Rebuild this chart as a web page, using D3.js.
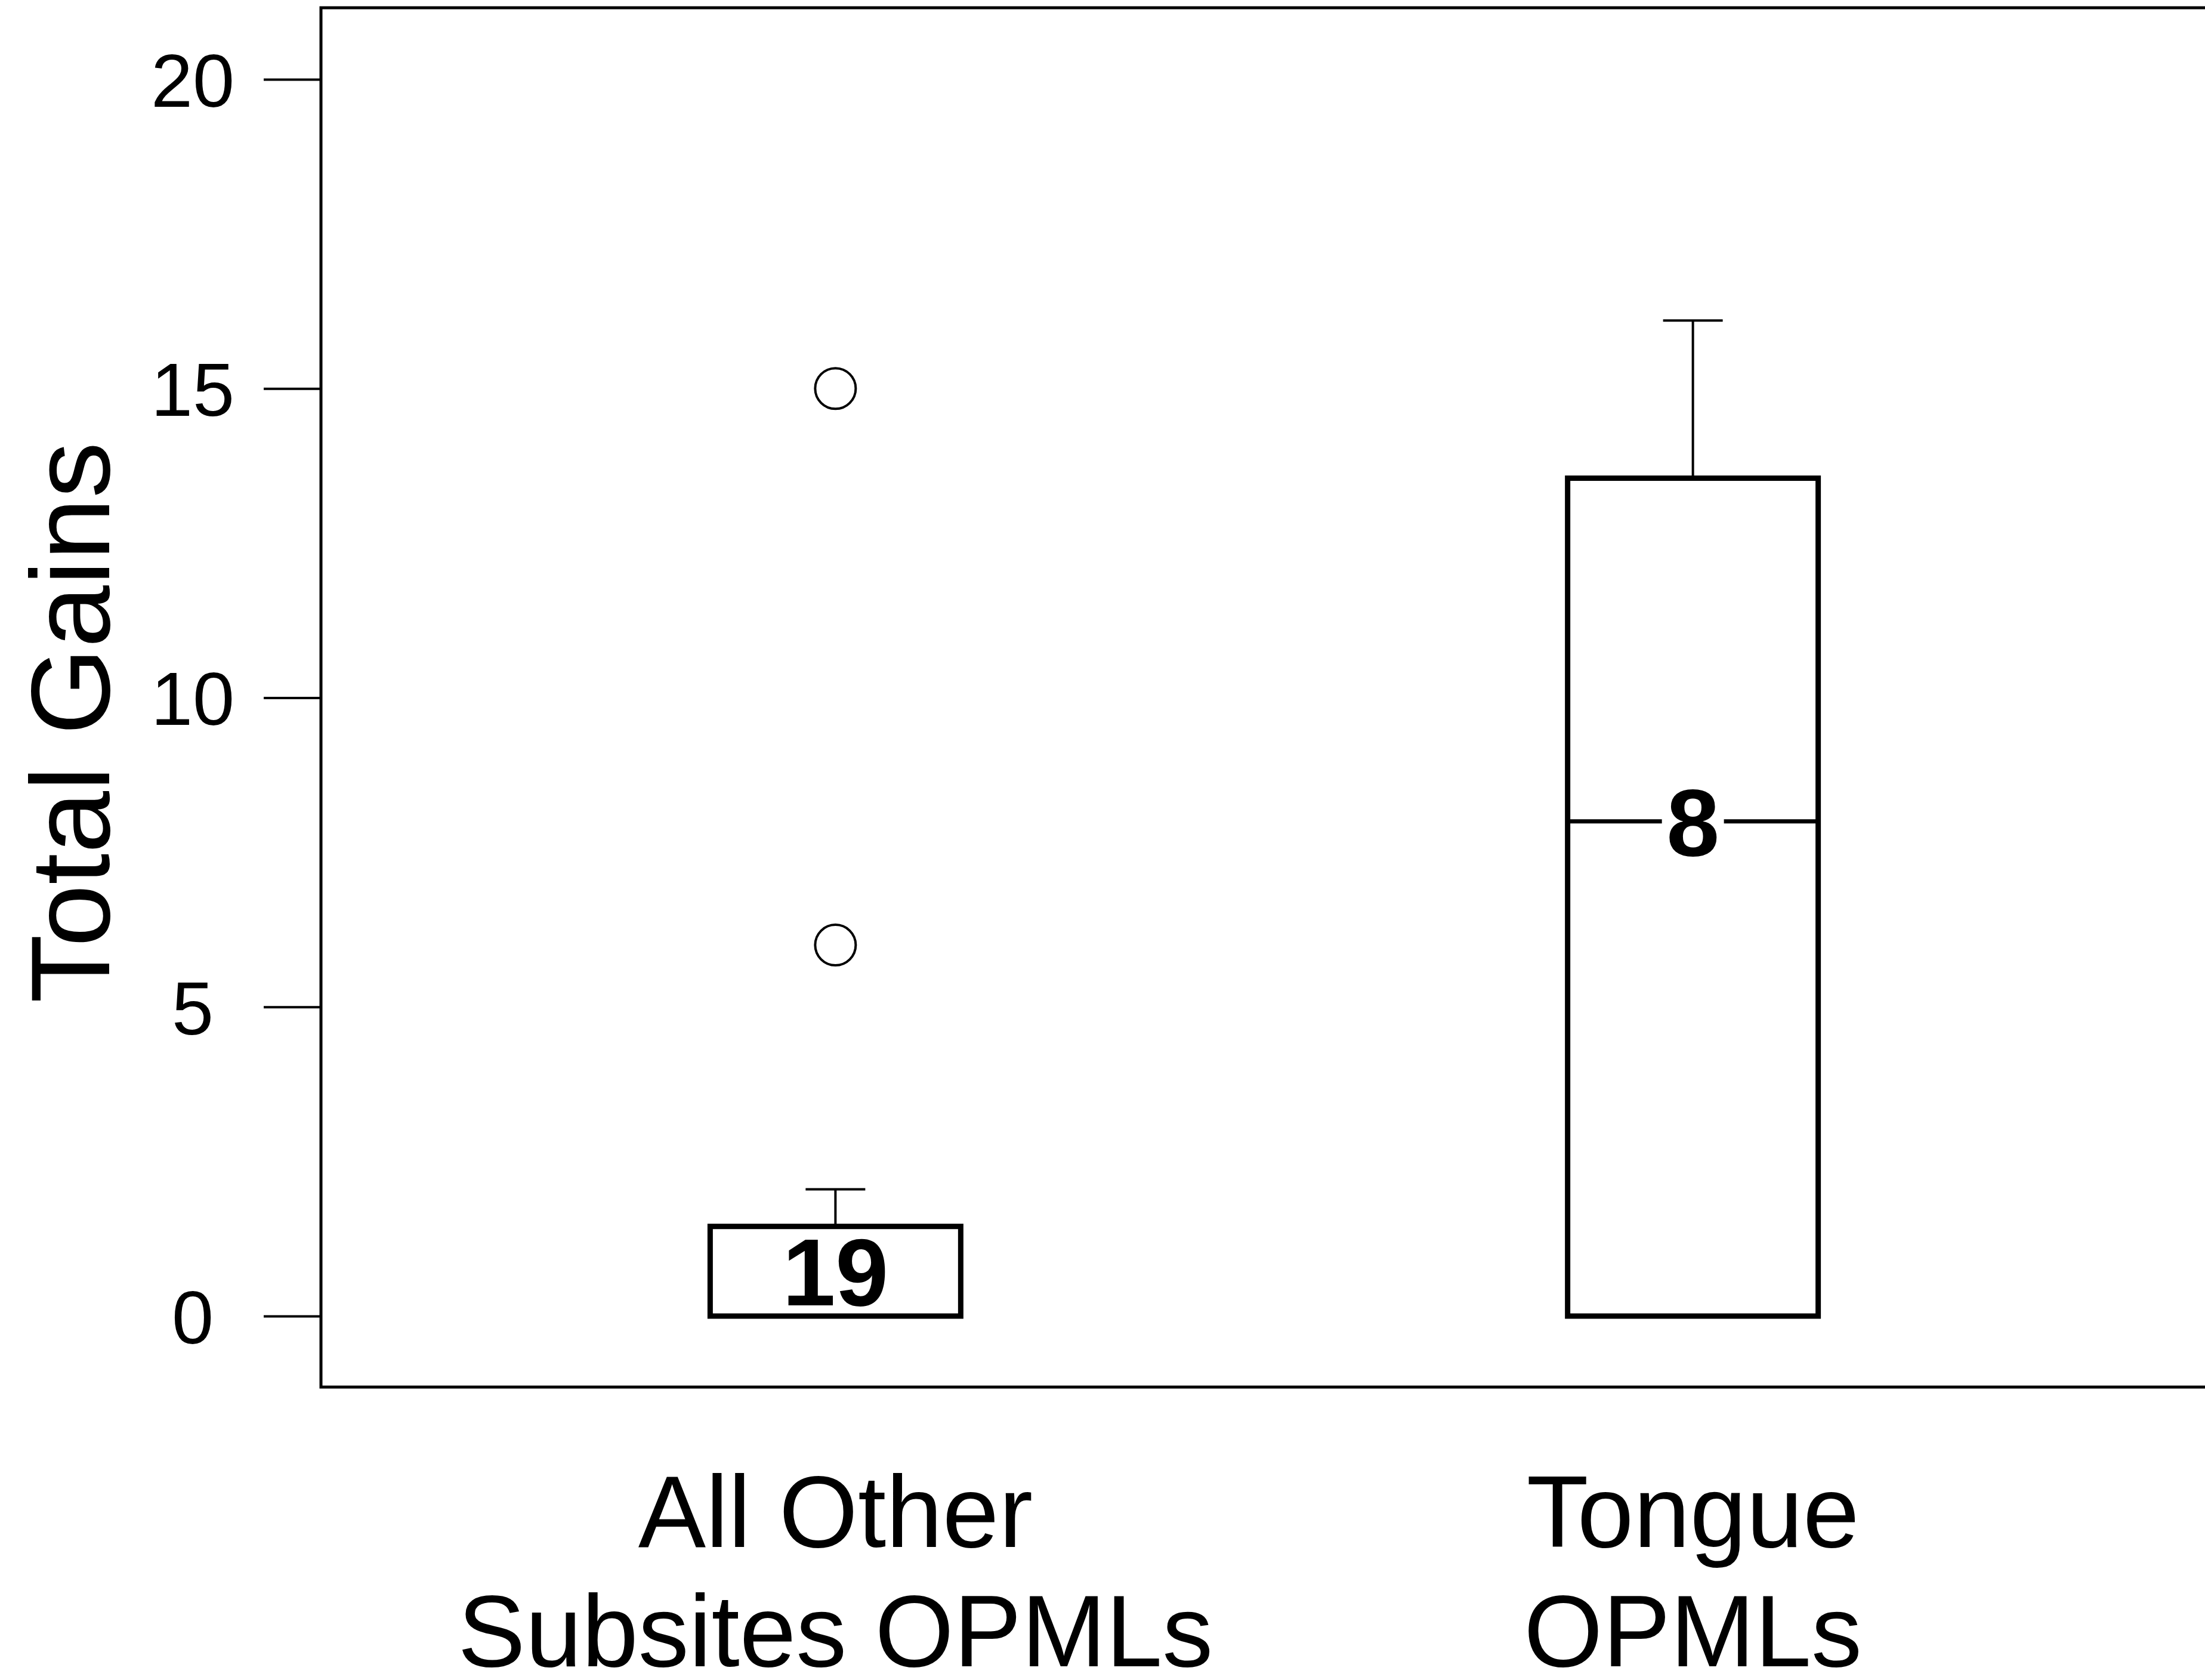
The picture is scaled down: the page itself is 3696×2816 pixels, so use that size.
<!DOCTYPE html>
<html>
<head>
<meta charset="utf-8">
<script src="https://cdn.jsdelivr.net/npm/d3@7/dist/d3.min.js"></script>
<style>
  html, body { margin: 0; padding: 0; background: #fff; }
  svg { display: block; }
  text { font-family: 'Liberation Sans', Arial, Helvetica, sans-serif; fill: #000; }
</style>
</head>
<body>
<svg id="chart"></svg>
<script>
  // box summaries
  var categoryLines = [['All Other', 'Subsites OPMLs'], ['Tongue', 'OPMLs']];
  var q1Values = [0, 0];
  var medianValues = [0, 8];
  var q3Values = [1.45, 13.55];
  var whiskerLow = [0, 0];
  var whiskerHigh = [2.05, 16.1];
  var outlierValues = [[15, 6], []];
  var countLabels = ['19', '8'];
  var yTicks = [0, 5, 10, 15, 20];

  const WIDTH = 3696;
  const HEIGHT = 2816;
  const FRAME = { left: 538, top: 13, right: 3712, bottom: 2325 };

  var svg = d3.select('#chart')
    .attr('width', WIDTH)
    .attr('height', HEIGHT);

  var x = d3.scalePoint()
    .domain(d3.range(categoryLines.length))
    .range([FRAME.left, 3700])
    .padding(0.6);

  var y = d3.scaleLinear()
    .domain([0, 20])
    .range([2206, 133]);

  var boxWidth = 420;
  var capWidth = 100;

  // y axis with long outward ticks
  var yAxis = svg.append('g')
    .attr('transform', 'translate(' + FRAME.left + ',0)')
    .call(d3.axisLeft(y).tickValues(yTicks).tickSize(96).tickFormat(d3.format('d')));
  yAxis.select('.domain').remove();
  yAxis.selectAll('.tick line')
    .attr('stroke', '#000')
    .attr('stroke-width', 4);
  yAxis.selectAll('.tick text')
    .attr('x', -215)
    .attr('dy', '0.36em')
    .attr('text-anchor', 'middle')
    .style('font-size', '126px')
    .style('font-family', "'Liberation Sans', Arial, Helvetica, sans-serif")
    .attr('fill', '#000');

  // plot frame
  svg.append('rect')
    .attr('x', FRAME.left)
    .attr('y', FRAME.top)
    .attr('width', FRAME.right - FRAME.left)
    .attr('height', FRAME.bottom - FRAME.top)
    .attr('fill', 'none')
    .attr('stroke', '#000')
    .attr('stroke-width', 5);

  var boxes = svg.selectAll('g.box')
    .data(d3.range(categoryLines.length))
    .enter()
    .append('g')
    .attr('class', 'box');

  // whiskers
  boxes.append('line')
    .attr('x1', function (i) { return x(i); })
    .attr('x2', function (i) { return x(i); })
    .attr('y1', function (i) { return y(q3Values[i]); })
    .attr('y2', function (i) { return y(whiskerHigh[i]); })
    .attr('stroke', '#000')
    .attr('stroke-width', 4);
  boxes.append('line')
    .attr('x1', function (i) { return x(i) - capWidth / 2; })
    .attr('x2', function (i) { return x(i) + capWidth / 2; })
    .attr('y1', function (i) { return y(whiskerHigh[i]); })
    .attr('y2', function (i) { return y(whiskerHigh[i]); })
    .attr('stroke', '#000')
    .attr('stroke-width', 4);
  boxes.filter(function (i) { return whiskerLow[i] < q1Values[i]; })
    .append('line')
    .attr('x1', function (i) { return x(i); })
    .attr('x2', function (i) { return x(i); })
    .attr('y1', function (i) { return y(q1Values[i]); })
    .attr('y2', function (i) { return y(whiskerLow[i]); })
    .attr('stroke', '#000')
    .attr('stroke-width', 4);

  // box body
  boxes.append('rect')
    .attr('x', function (i) { return x(i) - boxWidth / 2; })
    .attr('y', function (i) { return y(q3Values[i]); })
    .attr('width', boxWidth)
    .attr('height', function (i) { return y(q1Values[i]) - y(q3Values[i]); })
    .attr('fill', '#fff')
    .attr('stroke', '#000')
    .attr('stroke-width', 9);

  // median
  boxes.append('line')
    .attr('x1', function (i) { return x(i) - boxWidth / 2; })
    .attr('x2', function (i) { return x(i) + boxWidth / 2; })
    .attr('y1', function (i) { return y(medianValues[i]); })
    .attr('y2', function (i) { return y(medianValues[i]); })
    .attr('stroke', '#000')
    .attr('stroke-width', 7);

  // outliers
  boxes.selectAll('circle')
    .data(function (i) { return outlierValues[i].map(function (v) { return { i: i, v: v }; }); })
    .enter()
    .append('circle')
    .attr('cx', function (d) { return x(d.i); })
    .attr('cy', function (d) { return y(d.v); })
    .attr('r', 34)
    .attr('fill', '#fff')
    .attr('stroke', '#000')
    .attr('stroke-width', 4);

  // count labels: on the median, or mid-box when the median sits on Q1
  function labelValue (i) {
    return medianValues[i] > q1Values[i] ? medianValues[i] : (q1Values[i] + q3Values[i]) / 2;
  }
  boxes.append('rect')
    .attr('x', function (i) { return x(i) - 52; })
    .attr('y', function (i) { return y(labelValue(i)) - 68; })
    .attr('width', 104)
    .attr('height', 136)
    .attr('fill', '#fff')
    .attr('display', function (i) { return medianValues[i] > q1Values[i] ? null : 'none'; });
  boxes.append('text')
    .attr('x', function (i) { return x(i); })
    .attr('y', function (i) { return y(labelValue(i)); })
    .attr('dy', '0.36em')
    .attr('text-anchor', 'middle')
    .style('font-size', '160px')
    .style('font-weight', 'bold')
    .text(function (i) { return countLabels[i]; });

  // category labels
  var catText = svg.selectAll('text.cat')
    .data(d3.range(categoryLines.length))
    .enter()
    .append('text')
    .attr('class', 'cat')
    .attr('text-anchor', 'middle')
    .style('font-size', '170px');
  catText.selectAll('tspan')
    .data(function (i) { return categoryLines[i].map(function (t) { return { i: i, t: t }; }); })
    .enter()
    .append('tspan')
    .attr('x', function (d) { return x(d.i); })
    .attr('y', function (d, k) { return 2593 + k * 200; })
    .text(function (d) { return d.t; });

  // y axis title
  svg.append('text')
    .attr('transform', 'translate(183,1211) rotate(-90)')
    .attr('text-anchor', 'middle')
    .style('font-size', '188px')
    .text('Total Gains');
</script>
</body>
</html>
